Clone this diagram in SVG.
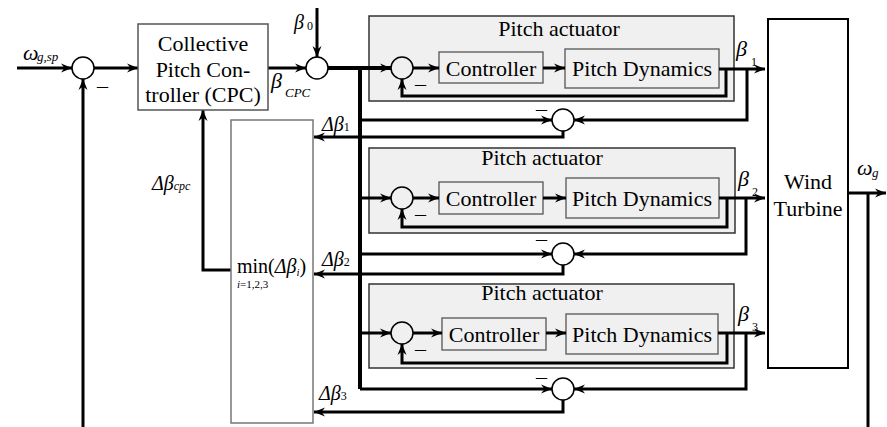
<svg xmlns="http://www.w3.org/2000/svg" width="887" height="427" viewBox="0 0 887 427" font-family="'Liberation Serif', 'DejaVu Serif', serif">
  <style>
    text { font-family: 'Liberation Serif', 'DejaVu Serif', serif; fill: #000; }
    .lbl { font-size: 22px; }
    .mid { text-anchor: middle; }
    .it { font-style: italic; }
    .sub { font-size: 13px; font-style: italic; }
    .blk { fill: #fff; stroke: #555; stroke-width: 1.5; }
    .act { fill: #f0f0f0; stroke: #333; stroke-width: 1.5; }
    .inner { fill: #f0f0f0; stroke: #555; stroke-width: 1.3; }
    .sum { fill: #fff; stroke: #000; stroke-width: 1.5; }
    .sumin { fill: none; stroke: #000; stroke-width: 1.5; }
    .wire { fill: none; stroke: #000; stroke-width: 3; }
    .trunk { fill: none; stroke: #000; stroke-width: 4; }
    .arr { marker-end: url(#arrow); }
  </style>
  <defs>
    <marker id="arrow" markerWidth="12" markerHeight="10" refX="11" refY="5" orient="auto" markerUnits="userSpaceOnUse">
      <path d="M0,0.5 L11,5 L0,9.5 L3.5,5 z" fill="#000"/>
    </marker>
  </defs>

  <!-- Pitch actuator 1 (background and blocks; wires drawn on top) -->
  <g id="actuator-1">
    <rect class="act" x="369" y="16" width="365" height="85"/>
    <text class="lbl mid" x="559" y="36">Pitch actuator</text>
    <circle class="sumin" cx="402" cy="68" r="11"/>
    <text class="lbl" x="415" y="91">–</text>
    <rect class="inner" x="439" y="52" width="104" height="31"/>
    <text class="lbl mid" x="491" y="76">Controller</text>
    <rect class="inner" x="565" y="49" width="154" height="39"/>
    <text class="lbl mid" x="642" y="76">Pitch Dynamics</text>
  </g>

  <!-- Pitch actuator 2 -->
  <g id="actuator-2">
    <rect class="act" x="369" y="148" width="366" height="85"/>
    <text class="lbl mid" x="542" y="165">Pitch actuator</text>
    <circle class="sumin" cx="402" cy="198" r="11"/>
    <text class="lbl" x="415" y="221">–</text>
    <rect class="inner" x="439" y="182" width="104" height="32"/>
    <text class="lbl mid" x="491" y="206">Controller</text>
    <rect class="inner" x="566" y="178" width="153" height="40"/>
    <text class="lbl mid" x="642" y="206">Pitch Dynamics</text>
  </g>

  <!-- Pitch actuator 3 -->
  <g id="actuator-3">
    <rect class="act" x="369" y="284" width="365" height="84"/>
    <text class="lbl mid" x="542" y="300">Pitch actuator</text>
    <circle class="sumin" cx="402" cy="333" r="11"/>
    <text class="lbl" x="415" y="356">–</text>
    <rect class="inner" x="442" y="318" width="104" height="32"/>
    <text class="lbl mid" x="494" y="342">Controller</text>
    <rect class="inner" x="566" y="314" width="152" height="40"/>
    <text class="lbl mid" x="642" y="342">Pitch Dynamics</text>
  </g>

  <!-- Connectors -->
  <g id="connectors">
    <!-- speed reference into first summing junction -->
    <path class="wire arr" d="M17,68 H72"/>
    <path class="wire arr" d="M94,68 H138"/>
    <path class="wire arr" d="M268,68 H306"/>
    <path class="wire arr" d="M317,8 V57"/>
    <!-- generator speed feedback -->
    <path class="wire arr" d="M83,427 V79"/>
    <!-- min-block output back to CPC -->
    <path class="wire arr" d="M231,270 H203 V110"/>
    <!-- pitch reference trunk -->
    <path class="trunk arr" d="M328,68 H391"/>
    <path class="trunk" d="M360,68 V389"/>
    <path class="wire arr" d="M360,389 H552"/>
    <path class="wire arr" d="M360,198 H391"/>
    <path class="wire arr" d="M360,333 H391"/>
    <path class="wire arr" d="M360,120 H552"/>
    <path class="wire arr" d="M360,254 H552"/>

    <!-- actuator 1 -->
    <path class="wire arr" d="M413,68 H439"/>
    <path class="wire arr" d="M543,68 H565"/>
    <path class="wire arr" d="M719,69 H765"/>
    <path class="wire arr" d="M726,69 V96 H402 V79"/>
    <path class="wire arr" d="M747,69 V120 H574"/>
    <path class="wire arr" d="M563,131 V137 H314"/>

    <!-- actuator 2 -->
    <path class="wire arr" d="M413,198 H439"/>
    <path class="wire arr" d="M543,198 H566"/>
    <path class="wire arr" d="M719,198 H765"/>
    <path class="wire arr" d="M727,198 V227 H402 V209"/>
    <path class="wire arr" d="M746,198 V254 H574"/>
    <path class="wire arr" d="M563,265 V274 H314"/>

    <!-- actuator 3 -->
    <path class="wire arr" d="M413,333 H442"/>
    <path class="wire arr" d="M546,333 H566"/>
    <path class="wire arr" d="M718,333 H765"/>
    <path class="wire arr" d="M727,333 V363 H402 V344"/>
    <path class="wire arr" d="M746,333 V389 H574"/>
    <path class="wire arr" d="M563,400 V412 H314"/>

    <!-- turbine output -->
    <path class="wire arr" d="M848,193 H886"/>
    <path class="wire" d="M868,193 V427"/>
  </g>

  <!-- Speed error junction -->
  <g id="sum-speed">
    <circle class="sum" cx="83" cy="68" r="11"/>
    <text class="lbl" x="97" y="93">–</text>
    <text class="lbl it" x="23" y="60">ω</text>
    <text class="sub" x="37" y="61">g,sp</text>
  </g>

  <!-- Collective pitch controller -->
  <g id="cpc">
    <rect class="blk" x="138" y="24" width="130" height="86"/>
    <text class="lbl mid" x="203" y="51">Collective</text>
    <text class="lbl mid" x="203" y="77">Pitch Con-</text>
    <text class="lbl mid" x="203" y="102">troller (CPC)</text>
    <text class="lbl it" x="271" y="88">β</text>
    <text class="sub" x="285" y="97">CPC</text>
  </g>

  <!-- Offset junction -->
  <g id="sum-offset">
    <circle class="sum" cx="317" cy="68" r="11"/>
    <text class="lbl it" x="294" y="29" style="font-size:20px">β</text>
    <text x="307" y="30" style="font-size:12px">0</text>
  </g>

  <!-- Minimum selector -->
  <g id="min-select">
    <rect x="231" y="120" width="82" height="303" fill="#fff" stroke="#777" stroke-width="1.5"/>
    <text x="237" y="273" style="font-size:20px">min(<tspan font-style="italic">Δβ</tspan><tspan font-style="italic" style="font-size:11px" dy="3">i</tspan><tspan dy="-3">)</tspan></text>
    <text class="it" x="237" y="288" style="font-size:11px">i<tspan font-style="normal">=1,2,3</tspan></text>
    <text class="it" x="152" y="190" style="font-size:20px">Δβ<tspan style="font-size:12px">cpc</tspan></text>
    <text class="it" x="322" y="131" style="font-size:20px">Δβ<tspan font-style="normal" style="font-size:12px">1</tspan></text>
    <text class="it" x="322" y="266" style="font-size:20px">Δβ<tspan font-style="normal" style="font-size:12px">2</tspan></text>
    <text class="it" x="319" y="400" style="font-size:20px">Δβ<tspan font-style="normal" style="font-size:12px">3</tspan></text>
  </g>

  <!-- Blade pitch error junctions and pitch labels -->
  <g id="compare-1">
    <circle class="sum" cx="563" cy="120" r="11"/>
    <text class="lbl" x="536" y="116">–</text>
    <text class="lbl it" x="736" y="56">β</text>
    <text x="751" y="66" style="font-size:12px">1</text>
  </g>
  <g id="compare-2">
    <circle class="sum" cx="563" cy="254" r="11"/>
    <text class="lbl" x="536" y="246">–</text>
    <text class="lbl it" x="738" y="186">β</text>
    <text x="752" y="196" style="font-size:12px">2</text>
  </g>
  <g id="compare-3">
    <circle class="sum" cx="563" cy="389" r="11"/>
    <text class="lbl" x="536" y="384">–</text>
    <text class="lbl it" x="738" y="321">β</text>
    <text x="752" y="331" style="font-size:12px">3</text>
  </g>

  <!-- Wind turbine -->
  <g id="turbine">
    <rect x="768" y="19" width="80" height="349" fill="#fff" stroke="#000" stroke-width="2"/>
    <text class="lbl mid" x="808" y="189">Wind</text>
    <text class="lbl mid" x="808" y="216">Turbine</text>
    <text class="lbl it" x="857" y="175">ω</text>
    <text class="sub" x="872" y="177">g</text>
  </g>
</svg>
